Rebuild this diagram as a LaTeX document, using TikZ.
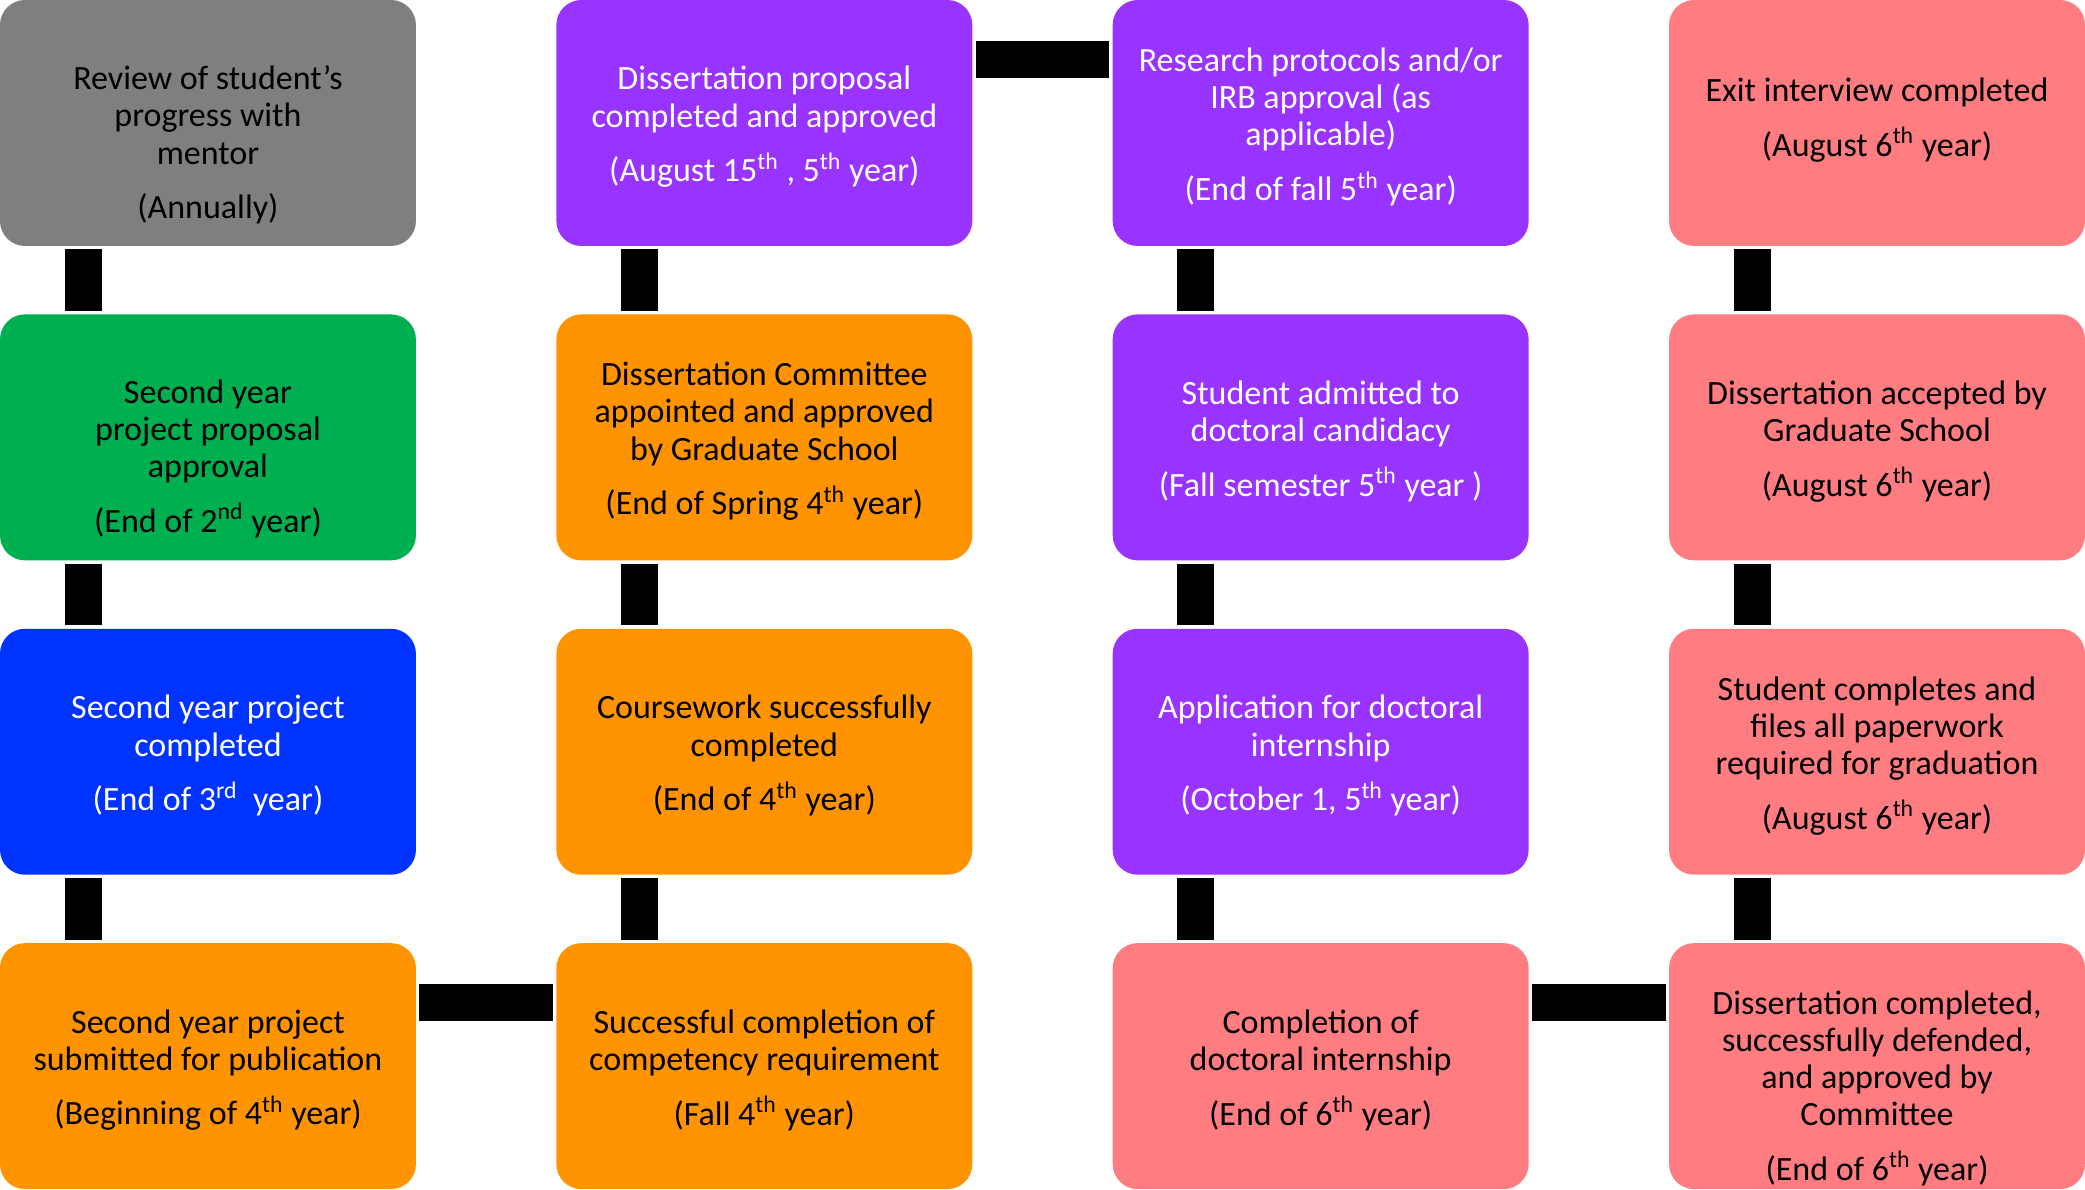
\documentclass[tikz,border=0pt]{standalone}
\usepackage{fontspec}
\setmainfont{Carlito}
\definecolor{greybox}{HTML}{7F7F7F}
\definecolor{purplebox}{HTML}{9933FF}
\definecolor{orangebox}{HTML}{FF9300}
\definecolor{greenbox}{HTML}{00B050}
\definecolor{bluebox}{HTML}{0033FF}
\definecolor{salmonbox}{HTML}{FF7C80}
\tikzset{
	box/.style={rectangle, rounded corners=12.5pt, minimum width=208pt, minimum height=123pt, inner sep=0pt},
	txt/.style={align=center, font=\fontsize{17pt}{18.6pt}\selectfont, inner sep=0pt},
	bar/.style={line width=18.5pt, black},
}
\begin{document}
\begin{tikzpicture}[x=278.2pt, y=157.2pt]
\useasboundingbox (-104pt,61.5pt) rectangle (938.6pt,-533.1pt);
\foreach[count=\i] \x/\y/\bg/\fg/\dy/\lbl in {
	0/0/greybox/black/-11/{Review of student’s\\progress with\\mentor\\[8.7pt](Annually)},
	0/-1/greenbox/black/-10.7/{Second year\\project proposal\\approval\\[8.7pt](End of 2\textsuperscript{nd} year)},
	0/-2/bluebox/white/-2/{Second year project\\completed\\[8.7pt](End of 3\textsuperscript{rd}\ \ year)},
	0/-3/orangebox/black/-2/{Second year project\\submitted for publication\\[8.7pt](Beginning of 4\textsuperscript{th} year)},
	1/0/purplebox/white/-2/{Dissertation proposal\\completed and approved\\[8.7pt](August 15\textsuperscript{th} , 5\textsuperscript{th} year)},
	1/-1/orangebox/black/-2/{Dissertation Committee\\appointed and approved\\by Graduate School\\[8.7pt](End of Spring 4\textsuperscript{th} year)},
	1/-2/orangebox/black/-2/{Coursework successfully\\completed\\[8.7pt](End of 4\textsuperscript{th} year)},
	1/-3/orangebox/black/-2/{Successful completion of\\competency requirement\\[8.7pt](Fall 4\textsuperscript{th} year)},
	2/0/purplebox/white/-2/{Research protocols and/or\\IRB approval (as\\applicable)\\[8.7pt](End of fall 5\textsuperscript{th} year)},
	2/-1/purplebox/white/-2/{Student admitted to\\doctoral candidacy\\[8.7pt](Fall semester 5\textsuperscript{th} year\ )},
	2/-2/purplebox/white/-2/{Application for doctoral\\internship\\[8.7pt](October 1, 5\textsuperscript{th} year)},
	2/-3/salmonbox/black/-2/{Completion of\\doctoral internship\\[8.7pt](End of 6\textsuperscript{th} year)},
	3/0/salmonbox/black/1.5/{Exit interview completed\\[8.7pt](August 6\textsuperscript{th} year)},
	3/-1/salmonbox/black/-2/{Dissertation accepted by\\Graduate School\\[8.7pt](August 6\textsuperscript{th} year)},
	3/-2/salmonbox/black/-2/{Student completes and\\files all paperwork\\required for graduation\\[8.7pt](August 6\textsuperscript{th} year)},
	3/-3/salmonbox/black/-11/{Dissertation completed,\\successfully defended,\\and approved by\\Committee\\[8.7pt](End of 6\textsuperscript{th} year)}%
}{
	\node[box, fill=\bg](\i) at(\x,\y){};
	\node[txt, text=\fg](t\i) at([yshift=\dy pt]\i.center){\lbl};
}
\foreach \u/\v in {1/2, 2/3, 3/4, 5/6, 6/7, 7/8, 9/10, 10/11, 11/12, 13/14, 14/15, 15/16}{
	\draw[bar] ([xshift=41.75pt,yshift=-1.5pt]\u.south west) -- ([xshift=41.75pt,yshift=1.5pt]\v.north west);
}
\foreach \u/\v in {4/8, 5/9, 12/16}{
	\draw[bar] ([xshift=1.5pt,yshift=-30pt]\u.north east) -- ([xshift=-1.5pt,yshift=-30pt]\v.north west);
}
\end{tikzpicture}
\end{document}
